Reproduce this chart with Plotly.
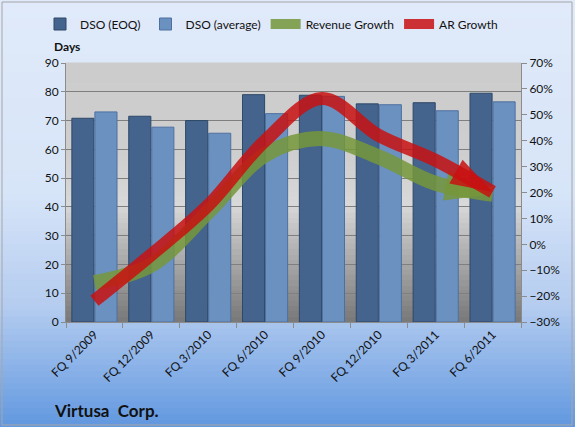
import plotly.graph_objects as go

categories = ["FQ 9/2009", "FQ 12/2009", "FQ 3/2010", "FQ 6/2010",
              "FQ 9/2010", "FQ 12/2010", "FQ 3/2011", "FQ 6/2011"]
dso_eoq = [70.8, 71.5, 70.0, 79.0, 78.8, 75.8, 76.2, 79.5]
dso_avg = [73.0, 67.7, 65.6, 72.4, 78.4, 75.5, 73.4, 76.5]
revenue_growth = [-14.8, -8.0, 12.5, 34.5, 40.8, 33.7, 23.5, 19.3]
ar_growth = [-21.8, -4.0, 15.0, 40.0, 56.3, 42.0, 32.4, 20.2]

W, H = 575, 427
ML, MR, MT, MB = 66, 54, 63, 105
PW, PH = W - ML - MR, H - MT - MB
FONT = "Lato"

fig = go.Figure()

fig.add_trace(go.Bar(x=categories, y=dso_eoq, name="DSO (EOQ)",
                     marker=dict(color="#44638d", line=dict(color="#2e4868", width=1))))
fig.add_trace(go.Bar(x=categories, y=dso_avg, name="DSO (average)",
                     marker=dict(color="#6b91c0", line=dict(color="#4d70a0", width=1))))

green = "rgba(118,150,58,0.85)"
red = "rgba(200,16,16,0.85)"

fig.add_trace(go.Scatter(x=categories, y=revenue_growth, name="Revenue Growth",
                         yaxis="y2", mode="lines",
                         line=dict(color=green, width=15, shape="spline", smoothing=1.0)))
fig.add_trace(go.Scatter(x=categories[-2:], y=revenue_growth[-2:], yaxis="y2",
                         mode="markers", showlegend=False, hoverinfo="skip",
                         marker=dict(symbol="arrow", size=[1, 50], angleref="previous",
                                     color=green, opacity=[0, 1], line=dict(width=0))))
fig.add_trace(go.Scatter(x=categories, y=ar_growth, name="AR Growth",
                         yaxis="y2", mode="lines",
                         line=dict(color=red, width=13, shape="spline", smoothing=1.0)))
fig.add_trace(go.Scatter(x=categories[-2:], y=ar_growth[-2:], yaxis="y2",
                         mode="markers", showlegend=False, hoverinfo="skip",
                         marker=dict(symbol="arrow", size=[1, 44], angleref="previous",
                                     color=red, opacity=[0, 1], line=dict(width=0))))

def lerp(stops, t):
    for i in range(len(stops) - 1):
        t0, c0 = stops[i]
        t1, c1 = stops[i + 1]
        if t0 <= t <= t1:
            f = (t - t0) / (t1 - t0) if t1 > t0 else 0
            return "rgb(%d,%d,%d)" % tuple(round(c0[k] + (c1[k] - c0[k]) * f) for k in range(3))
    return "rgb(%d,%d,%d)" % stops[-1][1]

shapes = []
page_stops = [(0.0, (224, 234, 250)), (0.45, (215, 229, 248)),
              (0.72, (180, 204, 240)), (1.0, (98, 152, 224))]
top_p = 1 + MT / PH
bot_p = -MB / PH
N = 70
for i in range(N):
    t = (i + 0.5) / N
    y1 = top_p - (top_p - bot_p) * i / N
    y0 = top_p - (top_p - bot_p) * (i + 1) / N
    shapes.append(dict(type="rect", xref="paper", yref="paper",
                       x0=-ML / PW - 0.01, x1=1 + MR / PW + 0.01,
                       y0=y0 - (0.01 if i == N - 1 else 0), y1=y1 + (0.01 if i == 0 else 0.003),
                       fillcolor=lerp(page_stops, t), line=dict(width=0), layer="below"))
plot_stops = [(0.0, (204, 204, 204)), (0.35, (206, 206, 206)), (0.55, (216, 216, 216)),
              (0.75, (172, 172, 172)), (1.0, (120, 120, 120))]
M = 50
for i in range(M):
    t = (i + 0.5) / M
    shapes.append(dict(type="rect", xref="x domain", yref="y domain",
                       x0=0, x1=1, y0=1 - (i + 1) / M, y1=1 - i / M + 0.002,
                       fillcolor=lerp(plot_stops, t), line=dict(width=0), layer="below"))
shapes.append(dict(type="rect", xref="paper", yref="paper",
                   x0=-(ML - 2) / PW, x1=1 + (MR - 3) / PW,
                   y0=-(MB - 2) / PH, y1=1 + (MT - 2) / PH,
                   line=dict(color="#a6a6a6", width=1), fillcolor="rgba(0,0,0,0)", layer="above"))

fig.update_layout(
    width=W, height=H,
    margin=dict(l=ML, r=MR, t=MT, b=MB, autoexpand=False),
    paper_bgcolor="#dfe9f9", plot_bgcolor="#cccccc",
    font=dict(family=FONT, size=12, color="#111111"),
    barmode="group", bargap=0.19, bargroupgap=0.04,
    shapes=shapes,
    showlegend=True,
    legend=dict(orientation="h", xref="paper", yref="paper",
                x=(40 - ML) / PW, xanchor="left", y=1 + (MT - 24) / PH, yanchor="middle",
                font=dict(size=12, family=FONT), bgcolor="rgba(0,0,0,0)",
                traceorder="normal", itemwidth=30),
    xaxis=dict(type="category", range=[-0.5, len(categories) - 0.5], autorange=False,
               tickangle=-45, showgrid=False,
               ticks="outside", tickson="boundaries", ticklen=5, tickcolor="#8c8c8c",
               showline=True, linecolor="#8c8c8c", linewidth=1,
               tickfont=dict(size=12, family=FONT)),
    yaxis=dict(range=[0, 90], dtick=10, showgrid=True, gridcolor="#7f7f7f", gridwidth=1,
               showline=True, linecolor="#8c8c8c", ticks="outside", ticklen=4, tickcolor="#8c8c8c",
               zeroline=False, tickfont=dict(size=12, family=FONT)),
    yaxis2=dict(range=[-30, 70], dtick=10, overlaying="y", side="right", showgrid=False,
                ticksuffix="%", showline=True, linecolor="#8c8c8c", ticks="outside",
                ticklen=5, tickcolor="#8c8c8c", zeroline=False,
                tickfont=dict(size=12, family=FONT)),
    annotations=[
        dict(text="<b>Days</b>", xref="paper", yref="paper", x=-14 / PW, y=1 + 16 / PH,
             xanchor="left", yanchor="middle", showarrow=False, font=dict(size=12, family=FONT)),
        dict(text="<b>Virtusa  Corp.</b>", xref="paper", yref="paper", x=-14 / PW,
             y=-88 / PH, xanchor="left", yanchor="middle", showarrow=False,
             font=dict(size=17, family=FONT, color="#111111")),
    ],
)

fig.write_html("out.html")
